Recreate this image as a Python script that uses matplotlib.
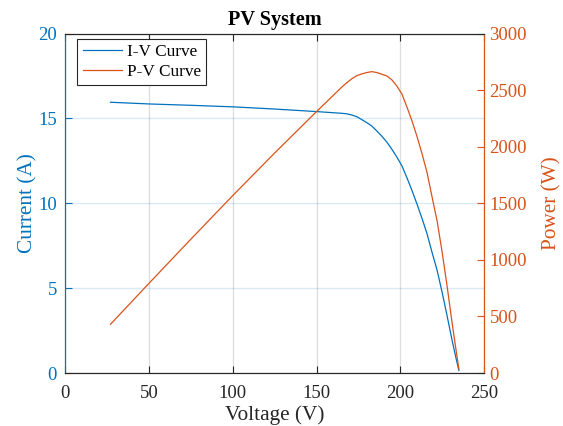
import matplotlib
matplotlib.use("Agg")
import matplotlib.pyplot as plt

plt.rcParams['font.family'] = ['Liberation Serif', 'DejaVu Serif']

voltage = [27, 50, 75, 100, 125, 150, 165, 168, 171, 174, 177, 180, 183, 186, 189,
           192, 195, 198, 201, 204, 207, 210, 213, 216, 219, 222, 225, 228, 231,
           233, 235]
current = [15.95, 15.85, 15.77, 15.68, 15.55, 15.40, 15.30, 15.27, 15.20, 15.10,
           14.93, 14.75, 14.55, 14.26, 13.95, 13.60, 13.18, 12.72, 12.20, 11.50,
           10.75, 9.95, 9.10, 8.20, 7.10, 6.05, 4.75, 3.35, 1.90, 1.00, 0.15]
power = [431, 793, 1183, 1568, 1944, 2310, 2525, 2565, 2599, 2627, 2643, 2655,
         2663, 2655, 2640, 2625, 2590, 2535, 2465, 2350, 2228, 2090, 1938, 1771,
         1555, 1343, 1069, 764, 439, 233, 35]

xticks = [0, 50, 100, 150, 200, 250]
yticks_left = [0, 5, 10, 15, 20]
yticks_right = [0, 500, 1000, 1500, 2000, 2500, 3000]

BLUE = '#0072BD'
ORANGE = '#D95319'

fig = plt.figure(figsize=(5.63, 4.26), dpi=100)
ax = fig.add_axes([65.3/563, 1 - 373/426, (484 - 65.3)/563, (373 - 33.5)/426])
ax2 = ax.twinx()

l1, = ax.plot(voltage, current, color=BLUE, lw=0.9, label='I-V Curve')
l2, = ax2.plot(voltage, power, color=ORANGE, lw=0.9, label='P-V Curve')

ax.set_xlim(0, 250)
ax.set_ylim(0, 20)
ax2.set_ylim(0, 3000)
ax.set_xticks(xticks)
ax.set_yticks(yticks_left)
ax2.set_yticks(yticks_right)

ax.grid(axis='x', color='#262626', alpha=0.15, lw=1.0)
ax.grid(axis='y', color=BLUE, alpha=0.15, lw=1.0)
ax.set_axisbelow(True)

ax.tick_params(axis='x', direction='in', top=True, length=5, width=0.8,
               colors='#262626', labelsize=13.5, pad=9)
ax.tick_params(axis='y', direction='in', length=5, width=0.8, colors=BLUE,
               labelsize=13.5, pad=6)
ax2.tick_params(axis='y', direction='in', length=5, width=0.8, colors=ORANGE,
                labelsize=13.5, pad=4)

for a in (ax, ax2):
    a.spines['top'].set_color('#262626')
    a.spines['bottom'].set_color('#262626')
    a.spines['left'].set_color(BLUE)
    a.spines['right'].set_color(ORANGE)
    for s in a.spines.values():
        s.set_linewidth(0.8)

ax.set_xlabel('Voltage (V)', fontsize=15.3, color='#262626', labelpad=2)
ax.set_ylabel('Current (A)', fontsize=15.3, color=BLUE, labelpad=0.3)
ax2.set_ylabel('Power (W)', fontsize=15.3, color=ORANGE, labelpad=11)
ax.set_title('PV System', fontsize=14.6, fontweight='bold', pad=6)

leg = ax.legend([l1, l2], ['I-V Curve', 'P-V Curve'], loc='upper left',
                bbox_to_anchor=(0.029, 0.983), fontsize=12.4, fancybox=False,
                edgecolor='#262626', framealpha=1, borderpad=0.3,
                handlelength=2.3, handletextpad=0.25, labelspacing=0.2,
                borderaxespad=0)
leg.get_frame().set_linewidth(0.8)

fig.savefig('out.png', dpi=100)
